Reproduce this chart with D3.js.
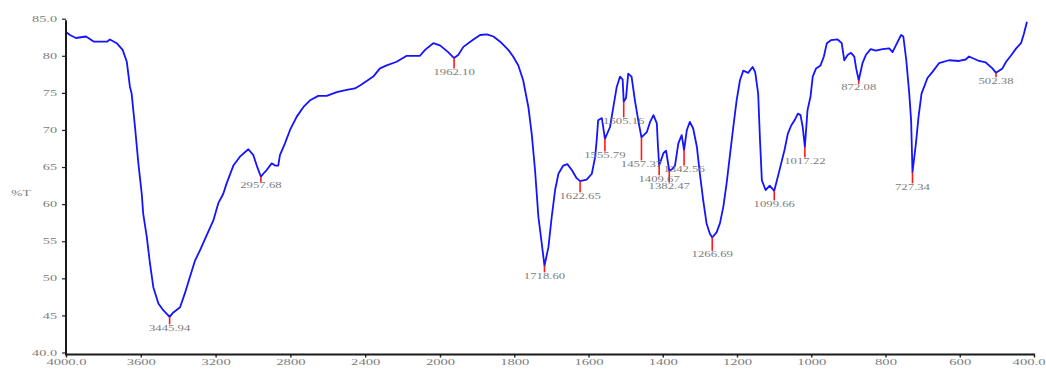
<!DOCTYPE html>
<html>
<head>
<meta charset="utf-8">
<script src="https://cdn.jsdelivr.net/npm/d3@7"></script>
<style>
  html, body { margin: 0; padding: 0; background: #ffffff; }
  svg { display: block; }
</style>
</head>
<body>
<svg id="chart" width="1046" height="369"></svg>
<script>
// FT-IR spectrum: transmittance (%T) against wavenumber (cm-1)
const wavenumbers = [
  4000, 3979, 3947, 3893, 3850, 3781, 3765, 3729, 3697, 3675, 3658, 3649, 3631, 3613, 3595, 3587,
  3568, 3551, 3533, 3506, 3480, 3445.94, 3426, 3390, 3364, 3337, 3310, 3283, 3248, 3212, 3186, 3159,
  3141, 3105, 3070, 3025, 2998, 2980, 2957.68, 2945, 2927, 2900, 2882, 2865, 2856, 2829, 2802, 2766,
  2730, 2695, 2651, 2606, 2552, 2499, 2455, 2428, 2392, 2357, 2321, 2285, 2232, 2178, 2107, 2080,
  2036, 2000, 1978, 1962.10, 1951, 1937, 1910, 1892, 1874, 1856, 1838, 1816, 1803, 1789, 1776, 1762,
  1753, 1744, 1735, 1726, 1718.60, 1708, 1699, 1690, 1681, 1668, 1657, 1645, 1632, 1622.65, 1605, 1591,
  1582, 1578, 1574, 1564, 1555.79, 1542, 1533, 1524, 1515, 1508, 1505.16, 1499, 1493, 1484, 1475, 1466,
  1457.37, 1443, 1434, 1425, 1416, 1413, 1409.67, 1398, 1391, 1382.47, 1375, 1367, 1358, 1349, 1342.56, 1335,
  1327, 1318, 1308, 1300, 1291, 1282, 1273, 1266.69, 1255, 1246, 1237, 1228, 1219, 1210, 1201, 1192,
  1183, 1170, 1158, 1151, 1143, 1138, 1133, 1123, 1112, 1099.66, 1090, 1081, 1072, 1063, 1054, 1045,
  1036, 1029, 1023, 1017.22, 1010, 1002, 996, 987, 975, 966, 958, 947, 929, 918, 911, 902,
  893, 884, 879, 872.08, 862, 853, 840, 826, 808, 790, 781, 772, 758, 752, 744, 736,
  731, 727.34, 718, 711, 703, 696, 687, 674, 656, 629, 602, 584, 575, 566, 548, 530,
  512, 502.38, 485, 475, 461, 448, 435, 427, 419
];
const transmittance = [
  83.2, 82.8, 82.4, 82.6, 81.9, 81.9, 82.2, 81.7, 80.8, 79.2, 75.8, 74.9, 70.4, 65.5, 61.4, 58.7,
  55.6, 52.0, 48.8, 46.6, 45.7, 44.8, 45.4, 46.1, 48.0, 50.2, 52.4, 53.8, 55.8, 57.8, 60.1, 61.4,
  62.8, 65.2, 66.4, 67.4, 66.6, 65.2, 63.7, 64.1, 64.6, 65.5, 65.2, 65.2, 66.6, 68.2, 70.0, 71.8,
  73.1, 74.0, 74.6, 74.6, 75.1, 75.4, 75.6, 76.0, 76.6, 77.2, 78.3, 78.7, 79.2, 80.0, 80.0, 80.8,
  81.7, 81.4, 80.5, 79.7, 80.1, 81.2, 82.2, 82.8, 82.9, 82.6, 81.9, 80.8, 79.9, 78.7, 76.7, 73.1,
  69.5, 64.6, 58.3, 54.7, 51.7, 54.2, 58.3, 61.9, 64.1, 65.2, 65.4, 64.6, 63.5, 63.1, 63.3, 64.1,
  66.4, 68.6, 71.3, 71.6, 68.8, 70.4, 73.1, 75.8, 77.2, 76.8, 73.8, 74.3, 77.6, 77.2, 74.0, 71.3,
  69.0, 69.7, 71.1, 72.0, 70.9, 67.9, 65.2, 66.9, 67.2, 64.5, 64.7, 65.2, 68.2, 69.3, 67.3, 70.0,
  71.1, 70.2, 67.7, 64.1, 60.5, 57.4, 56.0, 55.5, 56.2, 57.4, 59.6, 62.8, 66.6, 70.4, 74.0, 76.7,
  78.0, 77.7, 78.5, 77.8, 74.9, 68.6, 63.2, 61.9, 62.5, 61.8, 63.7, 65.5, 67.3, 69.5, 70.6, 71.3,
  72.2, 72.0, 70.4, 67.7, 72.7, 74.5, 77.2, 78.3, 78.7, 79.9, 81.7, 82.1, 82.2, 81.7, 79.4, 80.1,
  80.4, 79.9, 78.3, 76.7, 79.0, 80.1, 80.9, 80.7, 80.9, 81.0, 80.5, 81.4, 82.8, 82.6, 79.4, 74.9,
  71.3, 64.3, 68.2, 71.8, 74.9, 75.8, 77.0, 77.8, 79.0, 79.4, 79.3, 79.5, 79.9, 79.7, 79.3, 79.1,
  78.3, 77.7, 78.3, 79.2, 80.1, 81.0, 81.7, 83.0, 84.6
];

// Picked peaks: position, printed label, and where each red marker ends (%T)
const peakWavenumbers = [3445.94, 2957.68, 1962.10, 1718.60, 1622.65, 1555.79, 1505.16, 1457.37,
  1409.67, 1382.47, 1342.56, 1266.69, 1099.66, 1017.22, 872.08, 727.34, 502.38];
const peakLabels = ["3445.94", "2957.68", "1962.10", "1718.60", "1622.65", "1555.79", "1505.16", "1457.37",
  "1409.67", "1382.47", "1342.56", "1266.69", "1099.66", "1017.22", "872.08", "727.34", "502.38"];
const peakMarkerEnds = [43.8, 63.0, 78.3, 50.8, 61.6, 67.1, 71.7, 65.9,
  63.9, 62.9, 65.2, 53.7, 60.5, 66.3, 76.2, 62.8, 77.1];

// Axis ticks
const xTickValues = [4000, 3600, 3200, 2800, 2400, 2000, 1800, 1600, 1400, 1200, 1000, 800, 600, 400];
const xTickLabels = ["4000.0", "3600", "3200", "2800", "2400", "2000", "1800", "1600", "1400", "1200", "1000", "800", "600", "400.0"];
const yTickValues = [85, 80, 75, 70, 65, 60, 55, 50, 45, 40];
const yTickLabels = ["85.0", "80", "75", "70", "65", "60", "55", "50", "45", "40.0"];
const yTitle = "%T";

const svg = d3.select("#chart");
const W = +svg.attr("width");

// Wavenumber axis is compressed above 2000 cm-1
const x = d3.scaleLinear().domain([4000, 2000, 400]).range([66, 440, 1034]);
const y = d3.scaleLinear().domain([40, 85]).range([352.5, 18.7]);

const textColor = "#7c7c7c";
const fontFamily = "'Liberation Serif', 'Times New Roman', serif";

// Spectrum trace
const points = wavenumbers.map((w, i) => [w, transmittance[i]]);
const line = d3.line().x(d => x(d[0])).y(d => y(d[1]));
svg.append("path")
  .datum(points)
  .attr("fill", "none")
  .attr("stroke", "#1414ff")
  .attr("stroke-width", 1.8)
  .attr("stroke-linejoin", "round")
  .attr("d", line);

// Peak markers and labels
const tValueAt = w => transmittance[wavenumbers.indexOf(w)];
const peaks = peakWavenumbers.map((w, i) => ({ w, label: peakLabels[i], t: tValueAt(w), end: peakMarkerEnds[i] }));

const pg = svg.append("g");
pg.selectAll("line").data(peaks).join("line")
  .attr("x1", d => x(d.w)).attr("x2", d => x(d.w))
  .attr("y1", d => y(d.t)).attr("y2", d => y(d.end))
  .attr("stroke", "#ff1a1a")
  .attr("stroke-width", 1.6);

pg.selectAll("text").data(peaks).join("text")
  .attr("transform", d => `translate(${x(d.w)},${y(d.end) + 6.5}) scale(1.7,1)`)
  .attr("text-anchor", "middle")
  .attr("font-family", fontFamily)
  .attr("font-size", 7.5)
  .attr("fill", textColor)
  .text(d => d.label);

// Left axis
const yAxis = d3.axisLeft(y).tickValues(yTickValues).tickSize(4).tickFormat((d, i) => yTickLabels[i]);
const gy = svg.append("g").attr("transform", "translate(66,0)").call(yAxis);
gy.select(".domain").remove();
gy.selectAll(".tick line").attr("stroke", "#222").attr("stroke-width", 1.2);
gy.selectAll(".tick text")
  .attr("x", null).attr("dy", null)
  .attr("text-anchor", "end")
  .attr("transform", "translate(-9,2.6) scale(1.9,1)")
  .attr("font-family", fontFamily)
  .attr("font-size", 7.5)
  .attr("fill", textColor);
svg.append("line")
  .attr("x1", 66).attr("x2", 66)
  .attr("y1", y(85) + 1.5).attr("y2", y(40) + 2.2)
  .attr("stroke", "#1a1a1a").attr("stroke-width", 2);

// Bottom axis
const axisY = y(40) + 2;
const xAxis = d3.axisBottom(x).tickValues(xTickValues).tickSize(3).tickFormat((d, i) => xTickLabels[i]);
const gx = svg.append("g").attr("transform", `translate(0,${axisY})`).call(xAxis);
gx.select(".domain").remove();
gx.selectAll(".tick line").attr("stroke", "#222").attr("stroke-width", 1.4);
gx.selectAll(".tick text")
  .attr("y", null).attr("dy", null)
  .attr("transform", "translate(0,10.5) scale(1.95,1)")
  .attr("font-family", fontFamily)
  .attr("font-size", 7.5)
  .attr("fill", textColor);
// keep the last tick label inside the page edge
gx.selectAll(".tick").filter(d => d === 400).select("text")
  .attr("text-anchor", "end")
  .attr("transform", `translate(${W - 1 - x(400)},10.5) scale(1.95,1)`);
svg.append("line")
  .attr("x1", 65).attr("x2", x(400) + 1)
  .attr("y1", axisY).attr("y2", axisY)
  .attr("stroke", "#1a1a1a").attr("stroke-width", 2);

// Axis title
svg.append("text")
  .attr("transform", "translate(21,195.5) scale(1.8,1)")
  .attr("text-anchor", "middle")
  .attr("font-family", fontFamily)
  .attr("font-size", 7.5)
  .attr("fill", textColor)
  .text(yTitle);
</script>
</body>
</html>
